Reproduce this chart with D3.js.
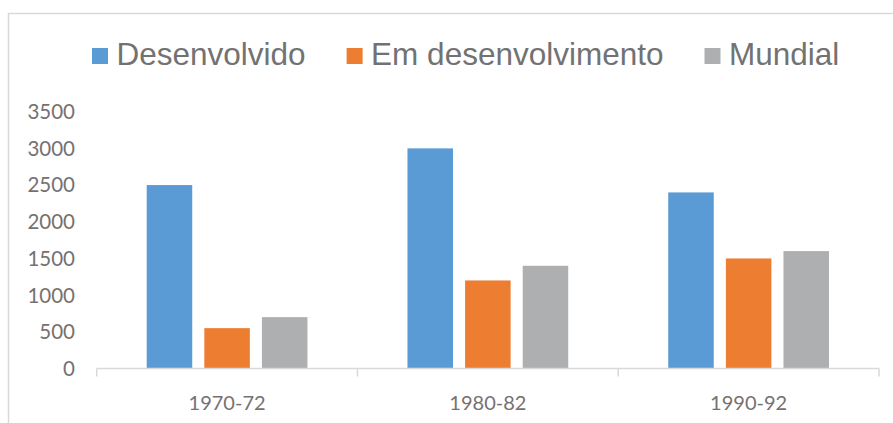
<!DOCTYPE html>
<html>
<head>
<meta charset="utf-8">
<script src="https://cdn.jsdelivr.net/npm/d3@7"></script>
<style>
  html, body { margin: 0; padding: 0; background: #fff; }
  svg { display: block; }
</style>
</head>
<body>
<div class="chart"></div>
<script>
// data
var categories = ["1970-72", "1980-82", "1990-92"];
var seriesNames = ["Desenvolvido", "Em desenvolvimento", "Mundial"];
var desenvolvido = [2500, 3000, 2400];
var emDesenvolvimento = [550, 1200, 1500];
var mundial = [700, 1400, 1600];
var yTicks = [0, 500, 1000, 1500, 2000, 2500, 3000, 3500];

var colors = ["#5B9BD5", "#ED7D31", "#AEAFB1"];
var values = [desenvolvido, emDesenvolvimento, mundial];

var width = 893, height = 423;

var svg = d3.select(".chart")
    .append("svg")
    .attr("width", width)
    .attr("height", height);

// outer frame of the chart area
svg.append("rect")
    .attr("x", 8.5)
    .attr("y", 13.5)
    .attr("width", 1000)
    .attr("height", 1000)
    .style("fill", "none")
    .style("stroke", "#d9d9d9")
    .style("stroke-width", 1.5);

var x = d3.scaleBand().domain(categories).range([96.7, 879]).padding(0);
var xs = d3.scaleBand().domain(seriesNames).range([0, x.bandwidth()])
    .paddingInner(0.21).paddingOuter(0.868);
var y = d3.scaleLinear().domain([0, 3500]).range([368.5, 111.7]);

// bars
var rows = categories.map((c, i) => ({
    cat: c,
    vals: seriesNames.map((s, j) => ({ name: s, value: values[j][i], color: colors[j] }))
}));

var groups = svg.selectAll(".grp")
    .data(rows)
    .enter()
    .append("g")
    .attr("class", "grp")
    .attr("transform", d => "translate(" + x(d.cat) + ",0)");

groups.selectAll("rect")
    .data(d => d.vals)
    .enter()
    .append("rect")
    .attr("x", d => xs(d.name))
    .attr("width", xs.bandwidth())
    .attr("y", d => y(d.value))
    .attr("height", d => y(0) - y(d.value))
    .style("fill", d => d.color);

// x axis
var xAxis = svg.append("g")
    .attr("transform", "translate(0," + y(0) + ")");
xAxis.append("line")
    .attr("x1", x.range()[0]).attr("x2", x.range()[1])
    .style("stroke", "#d9d9d9").style("stroke-width", 1.5);
var bounds = categories.map(c => x(c)).concat([x.range()[1]]);
xAxis.selectAll(".tk")
    .data(bounds)
    .enter()
    .append("line")
    .attr("x1", d => d).attr("x2", d => d)
    .attr("y1", 0).attr("y2", 8)
    .style("stroke", "#d9d9d9").style("stroke-width", 1.5);
xAxis.selectAll("text")
    .data(categories)
    .enter()
    .append("text")
    .attr("x", d => x(d) + x.bandwidth() / 2)
    .attr("y", 41)
    .attr("text-anchor", "middle")
    .style("font-family", "Lato, 'Open Sans', sans-serif")
    .style("font-size", "20px")
    .style("fill", "#767171")
    .text(d => d);

// y axis labels (no axis line)
svg.append("g")
    .selectAll("text")
    .data(yTicks)
    .enter()
    .append("text")
    .attr("x", 75)
    .attr("y", d => y(d))
    .attr("dy", "0.36em")
    .attr("text-anchor", "end")
    .style("font-family", "Lato, 'Open Sans', sans-serif")
    .style("font-size", "20.5px")
    .style("fill", "#767171")
    .text(d => d);

// legend
var legend = svg.append("g");
var lx = 92;
seriesNames.forEach((s, i) => {
    legend.append("rect")
        .attr("x", lx).attr("y", 48)
        .attr("width", 16).attr("height", 16)
        .style("fill", colors[i]);
    var t = legend.append("text")
        .attr("x", lx + 24.5)
        .attr("y", 64.5)
        .style("font-family", "'Liberation Sans', Arial, sans-serif")
        .style("font-size", "31.5px")
        .style("fill", "#727272")
        .text(s);
    lx = lx + 24.5 + t.node().getComputedTextLength() + 41;
});
</script>
</body>
</html>
